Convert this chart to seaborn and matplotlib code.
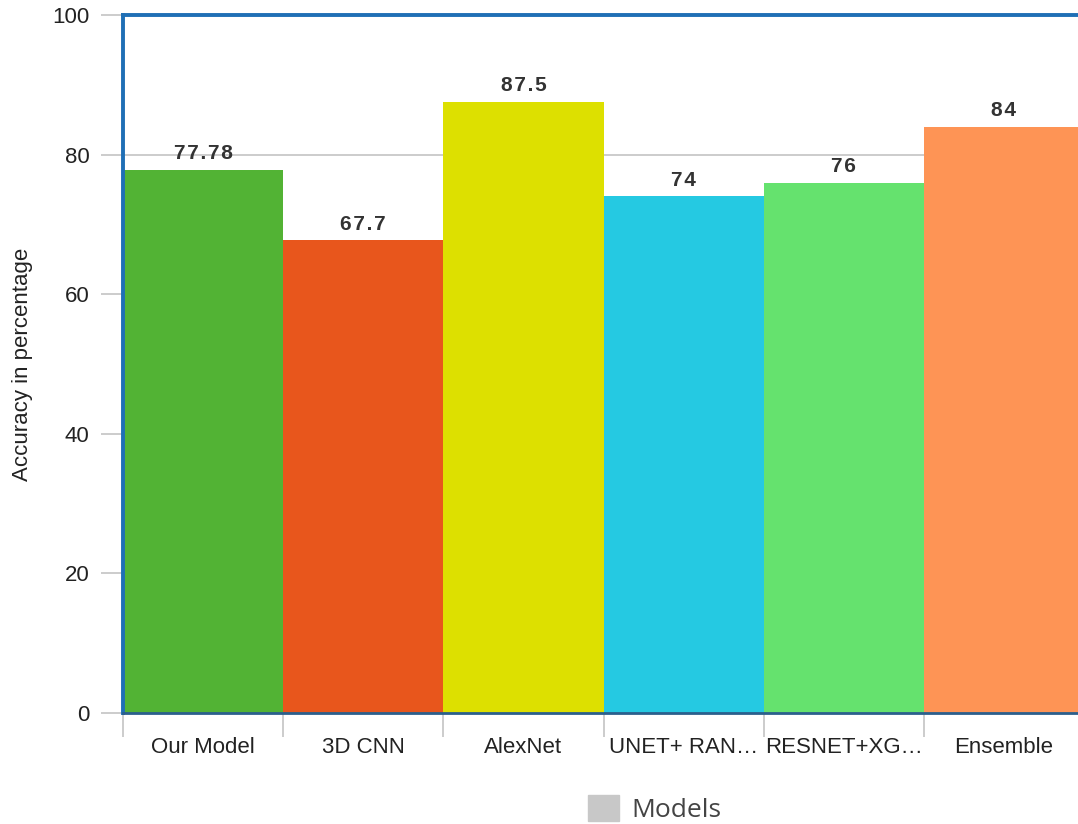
import matplotlib
matplotlib.use("Agg")
import matplotlib.pyplot as plt
from matplotlib.patches import Patch
from matplotlib.ticker import FixedLocator
import seaborn as sns

# Model accuracy comparison
models = ["Our Model", "3D CNN", "AlexNet", "UNET+ RAN\u2026", "RESNET+XG\u2026", "Ensemble"]
accuracy = [77.78, 67.7, 87.5, 74, 76, 84]
bar_colors = ["#52b334", "#e8561c", "#dde000", "#25c9e2", "#65e26e", "#fe9455"]
y_ticks = [0, 20, 40, 60, 80, 100]

sns.set_theme(style="white")
plt.rcParams["font.family"] = ["Liberation Sans", "DejaVu Sans"]

fig = plt.figure(figsize=(10.78, 8.24), dpi=100)
ax = fig.add_axes([123 / 1078, 1 - 713 / 824, (1084 - 123) / 1078, (713 - 15) / 824])

sns.barplot(x=models, y=accuracy, hue=models, palette=bar_colors, width=1.0,
            saturation=1, legend=False, ax=ax, zorder=2, linewidth=0)

ax.set_xlim(-0.5, len(models) - 0.5)
ax.set_ylim(0, 100)
ax.set_yticks(y_ticks)
ax.yaxis.grid(True, color="#c4c4c4", linewidth=1.2, zorder=0)
ax.set_axisbelow(True)

# value labels above bars, with a little letter spacing
labels = ["\u200a".join(f"{v:g}") for v in accuracy]
for container in ax.containers:
    ax.bar_label(container, labels=[labels[int(round(p.get_x() + p.get_width() / 2))]
                                    for p in container],
                 padding=5, fontsize=15, fontweight="bold", color="#333333")

# category boundaries as minor ticks, labels at centres
ax.xaxis.set_minor_locator(FixedLocator([i - 0.5 for i in range(len(models) + 1)]))
ax.tick_params(axis="x", which="minor", length=17, width=1.2, color="#c4c4c4", bottom=True)
ax.tick_params(axis="x", which="major", length=0, pad=17, labelsize=16, labelcolor="#222222")
ax.tick_params(axis="y", which="major", length=16, width=1.2, color="#c4c4c4", left=True,
               pad=8, labelsize=16, labelcolor="#222222")

ax.set_ylabel("Accuracy in percentage", fontsize=16, color="#222222", labelpad=14)

for side in ["left", "top"]:
    ax.spines[side].set_color("#1f6fb5")
    ax.spines[side].set_linewidth(2.8)
ax.spines["bottom"].set_color("#2b5f8c")
ax.spines["bottom"].set_linewidth(2)
ax.spines["right"].set_visible(False)

leg = fig.legend(handles=[Patch(color="#c8c8c8", label="Models")], loc="center",
                 bbox_to_anchor=(0.607, 1 - 809 / 824), frameon=False,
                 prop={"family": "Open Sans", "size": 19}, handlelength=1.2, handleheight=1.1,
                 handletextpad=0.45, labelcolor="#444444")

fig.savefig("out.png", dpi=100)
